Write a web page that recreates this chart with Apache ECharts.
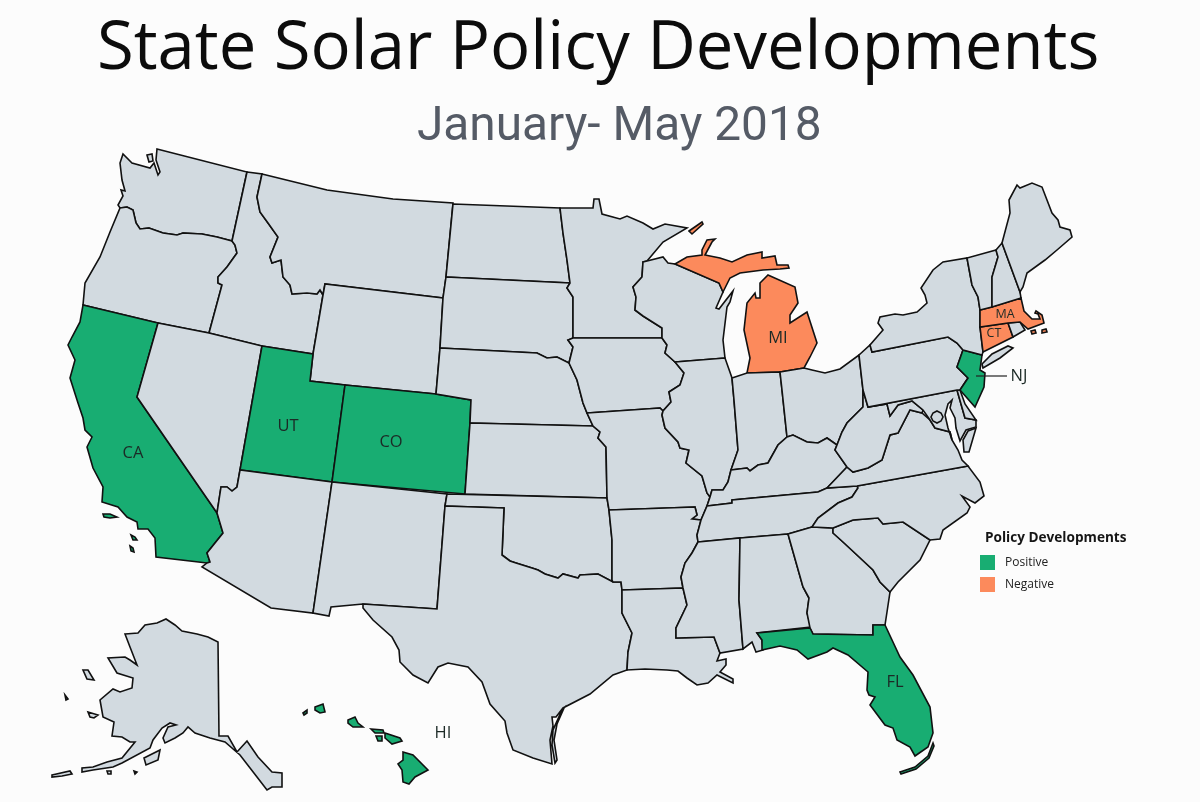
<!DOCTYPE html>
<html>
<head>
<meta charset="utf-8">
<title>State Solar Policy Developments</title>
<script src="https://cdn.jsdelivr.net/npm/echarts@6/dist/echarts.min.js"></script>
<style>
html,body{margin:0;padding:0;background:#fcfcfc;}
#chart{width:1200px;height:802px;}
</style>
</head>
<body>
<div id="chart"></div>
<script>
var positiveStates = ['CA','UT','CO','NJ','FL','HI'];
var negativeStates = ['MI','MA','CT'];
var labelledStates = ['CA','UT','CO','NJ','FL','HI','MI','MA','CT'];
var legendNames = ['Positive','Negative'];

// shared borders (x, y from the top left)
var columbia = [[120,208],[127,207],[133,210],[136,223],[140,229],[149,228],[163,233],[177,235],[183,233],[202,234],[217,237],[232,241]];
var snake = [[209,333],[222,285],[218,283],[218,277],[227,267],[237,253],[235,245],[232,241]];
var bitterroot = [[262,174],[257,197],[260,212],[268,223],[278,237],[270,257],[272,263],[281,260],[283,277],[290,285],[292,294],[307,293],[317,294],[320,290],[323,295]];
var nvAz = [[240,470],[237,487],[232,491],[227,487],[221,487],[219,500],[217,513]];
var caAz = [[217,513],[223,533],[215,543],[207,553],[210,562],[207,563]];
var redRiver = [[502,555],[510,561],[516,563],[532,568],[538,570],[545,574],[558,578],[563,574],[578,578],[580,575],[598,574],[613,582]];
var sabine = [[622,590],[622,600],[622,613],[632,633],[628,652],[627,670]];
var siouxMn = [[570,283],[567,288],[573,297],[573,338]];
var siouxIa = [[573,338],[568,340],[573,347],[569,363]];
var missouriNe = [[569,363],[577,380],[583,403],[587,413],[593,426]];
var missMn = [[643,262],[642,277],[633,287],[636,297],[635,310],[643,316],[662,328],[662,338]];
var missWi = [[662,338],[667,345],[665,353],[675,362]];
var missIa = [[675,362],[684,373],[680,385],[669,392],[671,402],[663,411]];
var missMo = [[663,411],[662,415],[665,428],[678,442],[680,448],[689,450],[686,463],[702,476],[707,493],[710,497]];
var missAr = [[701,520],[692,519],[697,515],[695,507]];
var missLow = [[701,520],[697,535],[698,542],[692,553],[685,563],[681,577],[683,588]];
var missLa = [[683,588],[687,605],[676,628],[676,638],[714,637],[720,653]];
var ohioIl = [[710,497],[712,490],[723,490],[728,482],[731,470]];
var ohioIn = [[731,470],[747,468],[750,471],[758,465],[768,463],[778,445],[787,437]];
var ohioOh = [[787,437],[793,435],[807,442],[818,443],[827,438],[837,445]];
var wabash = [[734,400],[738,450],[731,470]];
var tnNc = [[857,486],[858,488],[852,497],[838,503],[818,518],[812,527]];
var ncSc = [[833,528],[853,520],[878,518],[883,524],[903,522],[930,540]];
var gaSc = [[833,528],[833,533],[843,542],[857,555],[873,570],[880,582],[890,592]];
var gaAl = [[788,534],[803,587],[809,598],[807,613],[811,627],[810,628]];
var delaware = [[963,350],[957,367],[968,378],[960,390]];
var lakeOh = [[780,372],[804,368],[812,370],[825,373],[840,369],[859,355]];
var potomac = [[898,433],[910,410],[922,413],[930,420],[935,428],[950,432]];
var wvVa = [[847,467],[853,472],[868,468],[882,460],[890,435],[898,433]];
var vtNy = [[967,258],[972,285],[978,297],[980,310]];

function rev(a){ return a.slice().reverse(); }

var outlines = {
	WA: [[[157,149],[247,172],[232,241]].concat(rev(columbia)).concat([[118,205],[123,196],[121,190],[125,191],[122,180],[120,163],[123,154],[132,163],[150,168],[154,163],[158,175],[160,172],[156,160]]),
		[[147,155],[152,154],[153,161],[149,162]]],
	OR: [columbia.concat(rev(snake).slice(1)).concat([[158,323],[83,305],[85,283],[100,257],[110,232]])],
	CA: [[[83,305],[158,323],[137,397]].concat(caAz).concat([[156,557],[155,538],[148,529],[138,529],[137,522],[127,517],[118,507],[102,502],[103,487],[93,468],[87,447],[92,437],[85,430],[83,418],[78,403],[70,378],[75,360],[68,345],[72,337],[80,322]]),
		[[103,514],[110,514],[117,517],[110,518],[104,517]],[[131,535],[135,537],[137,540],[133,540]],[[130,546],[133,548],[134,552],[131,551]]],
	ID: [[[247,172]].concat(bitterroot).concat([[313,354],[262,346]]).concat(snake)],
	MT: [bitterroot.slice(0,1).concat([[327,190],[393,199],[453,203],[446,277],[443,298],[325,284]]).concat(rev(bitterroot).slice(0,-1))],
	WY: [[[325,284],[443,298],[440,348],[436,394],[345,385],[310,381],[313,354],[323,295]]],
	NV: [[[158,323],[209,333],[262,346]].concat(nvAz).concat([[137,397]])],
	UT: [[[262,346],[313,354],[310,381],[345,385],[332,482],[240,470]]],
	CO: [[[345,385],[436,394],[471,400],[470,423],[465,494],[332,482]]],
	AZ: [nvAz.concat(caAz.slice(1)).concat([[202,567],[271,608],[313,613],[332,482]])],
	NM: [[[332,482],[447,494],[445,506],[437,609],[363,604],[331,607],[329,616],[313,613]]],
	ND: [[[453,204],[560,208],[563,233],[567,260],[570,283],[446,277]]],
	SD: [[[446,277],[570,283]].concat(siouxMn.slice(1)).concat(siouxIa.slice(1)).concat([[557,357],[547,358],[537,353],[440,348],[443,298]])],
	NE: [[[440,348],[537,353],[547,358],[557,357]].concat(missouriNe).concat([[470,423],[471,400],[436,394]])],
	KS: [[[470,423],[593,426],[600,432],[598,438],[606,447],[607,498],[465,494]]],
	OK: [[[447,494],[607,498],[609,510],[612,540],[612,580]].concat(rev(redRiver)).concat([[504,508],[445,506]])],
	TX: [[[445,506],[504,508]].concat(redRiver).concat([[621,582]]).concat(sabine).concat([[613,675],[590,694],[563,708],[556,717],[552,717],[553,726],[550,740],[552,764],[533,758],[513,750],[507,733],[505,721],[490,704],[482,682],[468,667],[448,663],[438,667],[428,683],[413,675],[400,662],[399,650],[392,637],[373,620],[363,608],[363,604],[437,609]]),
		[[562,710],[564,708],[557,724],[554,740],[557,760],[555,763],[552,745],[553,730]]],
	MN: [[[560,208],[593,208],[594,199],[599,199],[602,214],[620,219],[627,216],[643,223],[653,229],[665,224],[687,228],[663,242],[647,261]].concat(missMn).concat([[573,338]]).concat(rev(siouxMn).slice(1)).concat([[567,260],[563,233]])],
	IA: [[[573,338]].concat(missWi).concat(missIa.slice(1)).concat([[660,408],[587,413],[583,403],[577,380]]).concat(rev(siouxIa).slice(0,-1))],
	MO: [[[587,413],[660,408]].concat(missMo).concat([[707,506]]).concat(missAr).concat([[609,510],[607,498],[606,447],[598,438],[600,432],[593,426]])],
	AR: [[[609,510]].concat(rev(missAr)).concat(missLow.slice(1)).concat([[622,590],[621,582],[613,582],[612,580],[612,540]])],
	LA: [[[622,590]].concat(missLa).concat([[717,661],[726,659],[726,665],[720,672],[733,679],[733,683],[717,675],[708,683],[697,685],[687,678],[678,671],[667,670],[645,669]]).concat(rev(sabine).slice(0,-1))],
	WI: [[[643,262],[647,261],[663,257],[668,263],[675,264],[719,283],[723,292],[716,308],[719,309],[733,291],[730,302],[727,307],[723,340],[725,358]].concat(rev(missWi)).concat(rev(missMn).slice(1))],
	IL: [[[675,362],[725,358],[732,378],[734,400]].concat(wabash.slice(1)).concat(rev(ohioIl).slice(1)).concat(rev(missMo).slice(1)).concat(rev(missIa).slice(1,-1))],
	MI: [[[675,264],[687,257],[702,255],[702,250],[707,240],[715,239],[712,242],[705,255],[720,258],[732,262],[747,255],[762,252],[762,258],[775,256],[777,265],[788,265],[789,268],[780,269],[763,270],[740,273],[730,278],[723,292],[719,283]],
		[[768,275],[795,287],[798,303],[790,315],[790,323],[807,312],[817,343],[810,357],[804,368],[780,372],[747,373],[750,358],[744,330],[747,303],[755,293],[756,298],[760,298],[760,283]],
		[[689,231],[702,222],[703,224],[692,234]]],
	IN: [[[732,378],[747,373],[780,372],[782,390]].concat(rev(ohioIn)).concat(rev(wabash).slice(1))],
	OH: [lakeOh.concat([[863,390],[863,407],[847,423],[842,432]]).concat(rev(ohioOh)).concat([[782,390]])],
	KY: [ohioIl.concat(ohioIn.slice(1)).concat(ohioOh.slice(1)).concat([[835,450],[847,467],[827,488],[818,492],[732,500],[732,503],[707,506]])],
	TN: [[[707,506],[732,503],[732,500],[818,492],[827,488]].concat(tnNc).concat([[788,534],[740,538]]).concat(rev(missLow).slice(4))],
	MS: [[[698,542],[740,538],[739,600],[743,649]].concat(rev(missLa)).concat(rev(missLow).slice(1,4))],
	AL: [[[740,538]].concat(gaAl).concat([[757,633],[762,640],[763,650],[756,652],[752,642],[743,649],[739,600]])],
	GA: [[[788,534],[812,527]].concat(gaSc).concat([[887,612],[885,625],[873,625],[873,635],[813,634]]).concat(rev(gaAl))],
	FL: [[[757,633],[810,628],[813,634],[873,635],[873,625],[885,625],[900,657],[913,675],[930,707],[933,733],[928,747],[915,756],[910,747],[897,740],[893,728],[885,725],[870,705],[875,697],[869,695],[867,690],[868,672],[848,655],[833,648],[827,652],[808,659],[797,650],[780,646],[762,650],[762,640]],
		[[900,772],[915,767],[928,756],[933,743],[934,746],[929,758],[916,769],[901,774]]],
	SC: [ncSc.concat([[920,560],[898,582]]).concat(rev(gaSc).slice(0,-1))],
	NC: [[[857,486],[968,466],[980,482],[984,496],[975,503],[962,496],[970,507],[967,513],[943,530],[940,539]].concat(rev(ncSc)).concat([[812,527]]).concat(rev(tnNc).slice(1))],
	VA: [[[827,488]].concat(wvVa).concat(potomac.slice(1)).concat([[952,440],[958,450],[962,460],[968,466],[857,486]]),
		[[968,431],[976,428],[969,452],[964,452],[963,440]]],
	WV: [[[863,390],[868,407],[887,404],[890,416],[898,405],[912,401],[923,410],[922,413],[910,410],[898,433]].concat(rev(wvVa).slice(1)).concat([[835,450],[837,445],[842,432],[847,423],[863,407]])],
	MD: [[[868,407],[957,390],[965,418],[976,420],[976,427],[966,430],[960,441],[956,428],[955,418],[950,408],[952,400],[948,404],[945,415],[948,428],[952,440],[950,432],[935,428],[930,420],[923,410],[912,401],[898,405],[890,416],[887,404]]],
	DE: [[[957,390],[960,390],[965,404],[976,420],[965,418]]],
	DC: [[[937,411],[941,413],[943,417],[941,421],[937,423],[933,421],[931,417],[933,413]]],
	PA: [[[859,355],[870,345],[872,352],[948,337],[957,343]].concat(delaware).concat([[957,390],[868,407],[863,390]])],
	NJ: [[[963,350],[982,355],[980,370],[985,373],[984,387],[975,407]].concat(rev(delaware).slice(0,-1))],
	NY: [vtNy.concat([[980,327],[983,352],[982,355],[963,350],[957,343],[948,337],[872,352],[870,345],[883,330],[878,323],[880,317],[895,314],[903,315],[917,312],[927,303],[925,295],[921,288],[933,270],[943,262]]),
		[[982,364],[992,354],[1008,346],[1013,348],[1000,358],[983,368]]],
	CT: [[[980,327],[1008,323],[1013,337],[983,352]]],
	RI: [[[1008,323],[1020,322],[1025,330],[1013,337]]],
	MA: [[[980,310],[992,307],[1021,298],[1024,311],[1032,319],[1040,319],[1038,314],[1035,313],[1036,311],[1042,315],[1044,323],[1028,329],[1020,322],[1008,323],[980,327]],
		[[1031,331],[1035,330],[1036,333],[1032,334]],[[1042,330],[1046,329],[1047,332],[1042,333]]],
	VT: [vtNy.concat([[992,307],[992,277],[998,257],[996,250]])],
	NH: [[[996,250],[1002,243],[1020,292],[1021,298],[992,307],[992,277],[998,257]]],
	ME: [[[1002,243],[1010,213],[1009,200],[1017,185],[1020,188],[1032,183],[1042,187],[1052,213],[1058,220],[1060,227],[1070,230],[1072,237],[1057,250],[1045,260],[1027,273],[1023,287],[1020,292]]],
	AK: [[[125,634],[138,633],[145,625],[157,623],[166,619],[175,625],[182,631],[197,634],[208,637],[218,642],[219,736],[228,736],[237,752],[247,741],[258,757],[272,772],[282,773],[282,787],[272,787],[267,790],[257,777],[240,755],[225,742],[210,738],[195,733],[188,727],[183,733],[175,738],[165,743],[163,738],[168,727],[176,725],[170,723],[162,728],[153,740],[150,748],[122,763],[113,767],[93,770],[82,772],[82,768],[93,767],[107,762],[122,758],[135,742],[130,742],[122,737],[112,736],[114,722],[103,717],[100,700],[113,689],[120,692],[132,688],[133,678],[117,673],[108,658],[125,657],[130,660],[137,665],[130,647]],
		[[144,758],[160,750],[158,760],[146,765]],[[83,670],[88,670],[94,680],[94,681],[87,679]],[[88,712],[98,715],[94,718],[90,717]],
		[[65,695],[68,699],[66,700]],[[52,775],[70,771],[72,774],[62,776],[52,777]],[[134,771],[137,772],[135,774]],[[107,771],[111,771],[111,774],[108,774]]],
	HI: [[[315,707],[323,704],[325,712],[320,713],[315,710]],[[303,713],[307,710],[307,713],[304,715]],[[348,720],[355,717],[358,723],[363,727],[353,727],[348,723]],
		[[371,729],[383,730],[384,733],[375,733]],[[376,736],[382,736],[382,741],[378,741]],[[385,733],[400,738],[402,741],[392,744],[385,738]],
		[[403,752],[413,755],[428,770],[415,777],[409,784],[403,782],[402,770],[398,764],[403,760]]]
};

var labelPoints = {
	CA:[133,453], UT:[288,426], CO:[391,442], NJ:[1019,376], FL:[895,682],
	HI:[443,733], MI:[778,338], MA:[1005,314], CT:[994,333]
};

var leaderLine = [[976,376],[1007,376]];

function flip(p){ return [p[0], 802 - p[1]]; }

var features = Object.keys(outlines).map(function(code){
	var polys = outlines[code].map(function(r){
		var c = r.map(flip);
		c.push(c[0]);
		return [c];
	});
	var props = {name: code};
	if(labelPoints[code]) props.cp = flip(labelPoints[code]);
	return {type:'Feature', properties:props, geometry:{type:'MultiPolygon', coordinates:polys}};
});
echarts.registerMap('usa', {type:'FeatureCollection', features:features});

var grey = '#d2dae0', green = '#18ad72', orange = '#fc8a5c';

var regions = Object.keys(outlines).map(function(code){
	var fill = grey;
	if(positiveStates.indexOf(code) > -1) fill = green;
	if(negativeStates.indexOf(code) > -1) fill = orange;
	var small = code == 'MA' || code == 'CT';
	return {
		name: code,
		itemStyle: {areaColor: fill},
		label: {
			show: labelledStates.indexOf(code) > -1,
			color: '#1c2a26',
			fontFamily: 'Open Sans',
			fontSize: small ? 12.5 : 16.5
		}
	};
});

var myChart = echarts.init(document.getElementById('chart'));
myChart.setOption({
	backgroundColor: '#fcfcfc',
	animation: false,
	title: [
		{text:'State Solar Policy Developments', left:92, top:11,
			textStyle:{fontFamily:'Open Sans', fontWeight:'normal', fontSize:67, color:'#0c0c0c'}},
		{text:'January- May 2018', left:412, top:99,
			textStyle:{fontFamily:'Roboto', fontWeight:'normal', fontSize:47.8, color:'#555b66'}},
		{text:'Policy Developments', left:980, top:526,
			textStyle:{fontFamily:'Open Sans', fontWeight:'bold', fontSize:13.6, color:'#151515'}}
	],
	legend: {
		orient:'vertical', left:975, top:550, itemWidth:15, itemHeight:15, itemGap:7,
		selectedMode:false, icon:'rect',
		textStyle:{fontFamily:'Open Sans', fontSize:12, color:'#222', padding:[0,0,0,5]},
		data: legendNames
	},
	geo: {
		map:'usa', roam:false, silent:true, aspectScale:1,
		left:0, top:0, width:1200, height:802,
		boundingCoords:[[0,802],[1200,0]],
		itemStyle:{areaColor:grey, borderColor:'#111', borderWidth:1.6},
		label:{show:false},
		regions: regions
	},
	series: [
		{name:legendNames[0], type:'scatter', coordinateSystem:'geo', data:[], itemStyle:{color:green, opacity:1}},
		{name:legendNames[1], type:'scatter', coordinateSystem:'geo', data:[], itemStyle:{color:orange, opacity:1}},
		{type:'lines', coordinateSystem:'geo', silent:true, polyline:true, symbol:'none',
			lineStyle:{color:'#222', width:1.2, opacity:1},
			data:[{coords:leaderLine.map(flip)}]}
	]
});
</script>
</body>
</html>
